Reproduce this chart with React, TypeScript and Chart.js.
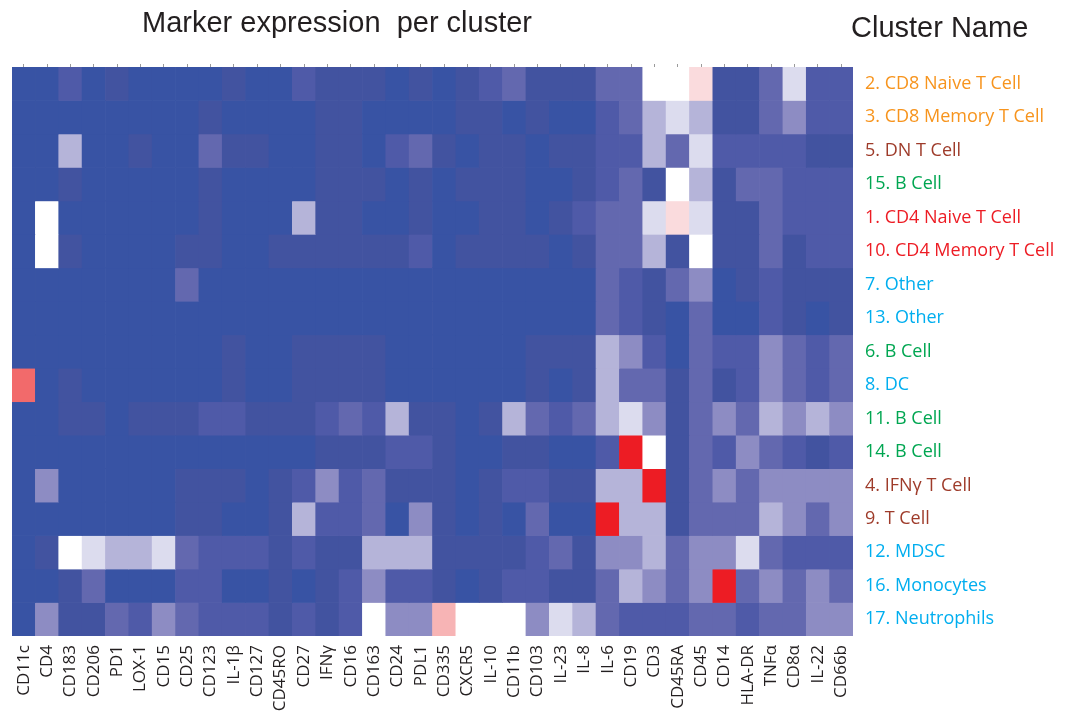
import React, { useEffect, useRef } from "react";
import { Chart, registerables } from "chart.js";

Chart.register(...registerables);

// Marker (column) labels
const markers = [
  "CD11c", "CD4", "CD183", "CD206", "PD1", "LOX-1", "CD15", "CD25", "CD123", "IL-1β",
  "CD127", "CD45RO", "CD27", "IFNγ", "CD16", "CD163", "CD24", "PDL1", "CD335", "CXCR5",
  "IL-10", "CD11b", "CD103", "IL-23", "IL-8", "IL-6", "CD19", "CD3", "CD45RA", "CD45",
  "CD14", "HLA-DR", "TNFα", "CD8α", "IL-22", "CD66b",
];

// Cluster (row) labels and their colours
const clusterNames = [
  "2. CD8 Naive T Cell", "3. CD8 Memory T Cell", "5. DN T Cell", "15. B Cell",
  "1. CD4 Naive T Cell", "10. CD4 Memory T Cell", "7. Other", "13. Other", "6. B Cell",
  "8. DC", "11. B Cell", "14. B Cell", "4. IFNγ T Cell", "9. T Cell", "12. MDSC",
  "16. Monocytes", "17. Neutrophils",
];
const clusterColors = [
  "#F7941D", "#F7941D", "#9E3B2A", "#00A651", "#ED1C24", "#ED1C24", "#00AEEF", "#00AEEF",
  "#00A651", "#00AEEF", "#00A651", "#00A651", "#9E3B2A", "#9E3B2A", "#00AEEF", "#00AEEF",
  "#00AEEF",
];

// Expression level per marker (0 = low/blue ... 7 = white ... 11 = high/red)
const cd8Naive = [0,0,2,0,1,0,0,0,0,1,0,0, 2,1,1,1,0,1,0,1,2,3,1,1,1, 3,3,7,7,8,1,1,3,6,2,2];
const cd8Memory = [0,0,0,0,0,0,0,0,1,0,0,0, 0,1,1,0,0,0,0,1,1,0,1,0,0, 2,3,5,6,5,1,1,3,4,2,2];
const dnT = [0,0,5,0,0,1,0,0,3,1,1,0, 0,1,1,0,2,3,1,0,1,1,0,1,1, 2,2,5,3,6,2,2,2,2,1,1];
const bCell15 = [0,0,1,0,0,0,0,0,1,0,0,0, 0,1,1,1,0,1,0,1,1,1,0,0,1, 2,3,1,7,5,1,3,3,2,2,2];
const cd4Naive = [0,7,0,0,0,0,0,0,1,0,0,0, 5,1,1,0,0,1,0,0,1,1,0,1,2, 3,3,6,8,6,1,1,3,2,2,2];
const cd4Memory = [0,7,1,0,0,0,0,1,1,0,0,1, 1,1,1,1,1,2,0,1,1,1,1,0,1, 3,3,5,1,7,1,1,3,1,2,2];
const other7 = [0,0,0,0,0,0,0,3,0,0,0,0, 0,0,0,0,0,0,0,0,0,0,0,0,0, 3,2,1,3,4,0,1,2,1,1,1];
const other13 = [0,0,0,0,0,0,0,0,0,0,0,0, 0,0,0,0,0,0,0,0,0,0,0,0,0, 3,2,1,0,3,0,0,2,1,0,1];
const bCell6 = [0,0,0,0,0,0,0,0,0,1,0,0, 1,1,1,1,0,0,0,0,0,0,1,1,1, 5,4,2,0,3,2,2,4,3,2,3];
const dc8 = [10,0,1,0,0,0,0,0,0,1,0,0, 1,1,1,1,0,0,0,0,0,0,1,0,1, 5,3,3,1,3,1,2,4,3,2,3];
const bCell11 = [0,0,1,1,0,1,1,1,2,2,1,1, 1,2,3,2,5,1,1,0,1,5,3,2,3, 5,6,4,1,3,4,3,5,4,5,4];
const bCell14 = [0,0,0,0,0,0,0,0,0,0,0,0, 0,1,1,1,2,2,1,0,0,1,1,0,0, 2,11,7,1,3,2,4,3,2,1,2];
const ifngT = [0,4,0,0,0,0,0,1,1,1,0,1, 2,4,2,3,1,1,1,0,1,2,2,1,1, 5,5,11,1,3,4,3,4,4,4,4];
const tCell9 = [0,0,0,0,0,0,0,1,1,0,0,1, 5,2,2,3,0,4,1,0,1,0,3,0,0, 11,5,5,1,3,3,3,5,4,3,4];
const mdsc = [0,1,7,6,5,5,6,3,2,2,2,1, 2,1,1,5,5,5,1,1,1,1,2,3,1, 4,4,5,3,4,4,6,3,2,2,2];
const monocytes = [0,0,1,3,0,0,0,2,2,0,0,1, 0,1,2,4,2,2,1,0,1,2,2,1,1, 3,5,4,3,4,11,3,4,3,4,3];
const neutrophils = [0,4,1,1,3,2,4,3,2,2,2,1, 2,1,2,7,4,4,9,7,7,7,4,6,5, 3,2,2,2,3,3,2,3,3,4,4];

const rows = [
  cd8Naive, cd8Memory, dnT, bCell15, cd4Naive, cd4Memory, other7, other13, bCell6,
  dc8, bCell11, bCell14, ifngT, tCell9, mdsc, monocytes, neutrophils,
];

// Colour scale for the levels
const palette = [
  "#3853A4", "#4253A0", "#4F5AA8", "#6368AF", "#8D8CC3", "#B5B4D9",
  "#DCDCEE", "#FFFFFF", "#FADBDD", "#F7B4B5", "#F26A6B", "#ED1C24",
];

const headingsPlugin = {
  id: "headings",
  afterDraw(chart: any) {
    const ctx = chart.ctx;
    ctx.save();
    ctx.fillStyle = "#231F20";
    ctx.font = '29px "Liberation Sans", Arial, sans-serif';
    ctx.textBaseline = "alphabetic";
    ctx.textAlign = "left";
    ctx.fillText("Marker expression  per cluster", 142, 32);
    ctx.fillText("Cluster Name", 851, 37);
    ctx.restore();
  },
};

export default function App() {
  const ref = useRef<HTMLCanvasElement | null>(null);

  useEffect(() => {
    if (!ref.current) return;
    const datasets = rows.map((levels, r) => ({
      label: clusterNames[r],
      data: markers.map(() => 1),
      backgroundColor: levels.map((l) => palette[l]),
      borderWidth: 0,
      barPercentage: 1,
      categoryPercentage: 1,
      stack: "heat",
      xAxisID: "x",
      yAxisID: "y",
    }));

    const chart = new Chart(ref.current, {
      type: "bar",
      data: { labels: markers, datasets },
      options: {
        animation: false,
        responsive: false,
        layout: { padding: { left: 12, top: 63, right: 0, bottom: 0 } },
        plugins: { legend: { display: false }, tooltip: { enabled: false } },
        scales: {
          x: {
            type: "category",
            position: "bottom",
            stacked: true,
            offset: true,
            grid: { display: false },
            border: { display: false },
            ticks: {
              autoSkip: false,
              minRotation: 90,
              maxRotation: 90,
              padding: 1,
              color: "#231F20",
              font: { family: '"Open Sans", sans-serif', size: 17 },
            },
            afterFit: (s: any) => { s.height = 75; },
          },
          xTop: {
            type: "category",
            position: "top",
            labels: markers,
            offset: true,
            grid: { display: true, drawOnChartArea: false, offset: false, tickLength: 3, color: "#9a9a9a" },
            border: { display: false },
            ticks: { display: false },
            afterFit: (s: any) => { s.height = 4; },
          },
          y: {
            type: "linear",
            stacked: true,
            min: 0,
            max: rows.length,
            reverse: true,
            display: false,
          },
          yR: {
            type: "category",
            position: "right",
            labels: clusterNames,
            offset: true,
            grid: { display: false },
            border: { display: false },
            ticks: {
              autoSkip: false,
              padding: 4,
              color: (c: any) => clusterColors[c.index],
              font: { family: '"Open Sans", sans-serif', size: 18 },
            },
            afterFit: (s: any) => { s.width = 212; },
          },
        },
      },
      plugins: [headingsPlugin],
    } as any);
    return () => chart.destroy();
  }, []);

  return (
    <div style={{ position: "fixed", left: 0, top: 0, width: 1065, height: 711, background: "#fff" }}>
      <canvas ref={ref} width={1065} height={711} style={{ display: "block" }} />
    </div>
  );
}
